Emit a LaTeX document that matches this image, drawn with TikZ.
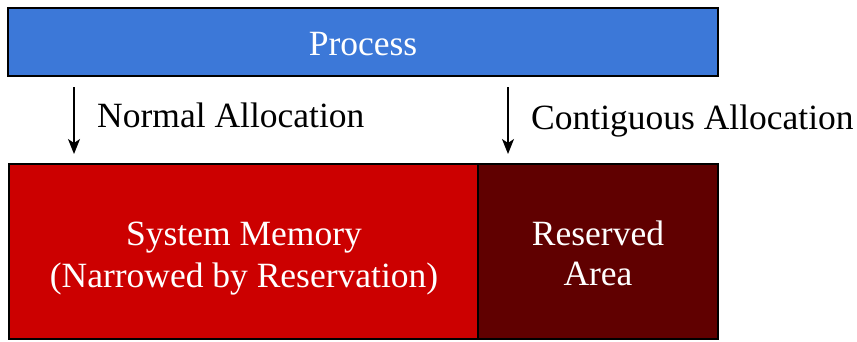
\documentclass[tikz,border=0pt]{standalone}
\usepackage{fontspec}
\setmainfont{Liberation Serif}
\usetikzlibrary{arrows.meta}
\definecolor{procblue}{HTML}{3C78D8}
\definecolor{sysred}{HTML}{CC0000}
\definecolor{resred}{HTML}{600000}
\tikzset{
  box/.style={draw=black, line width=2pt, inner sep=0pt},
  txt/.style={inner sep=0pt, text=white, align=center, font=\fontsize{35.5}{42}\selectfont},
  lbl/.style={anchor=base west, inner sep=0pt, font=\fontsize{35.5}{42}\selectfont},
  arr/.style={line width=1.5pt, -{Stealth[length=15pt,width=12pt,inset=4pt]}}
}
\begin{document}
\begin{tikzpicture}[x=1pt,y=-1pt]
\useasboundingbox (0,0) rectangle (857,341);
\node[box, fill=procblue, minimum width=710pt, minimum height=68pt] (proc) at (363,42) {};
\node[txt, anchor=base] (procT) at (363,55) {Process};
\node[box, fill=sysred, minimum width=470pt, minimum height=175pt] (sys) at (243.5,251) {};
\node[box, fill=resred, minimum width=240pt, minimum height=175pt] (res) at (598,251) {};
\node[txt, anchor=base] (sysT1) at (244,245) {System Memory};
\node[txt, anchor=base] (sysT2) at (244,287) {(Narrowed by Reservation)};
\node[txt, anchor=base] (resT1) at (598,245) {Reserved};
\node[txt, anchor=base] (resT2) at (598,285) {Area};
\coordinate (a1s) at (74,87);
\coordinate (a1e) at (74,154);
\coordinate (a2s) at (508,87);
\coordinate (a2e) at (508,154);
\draw[arr] (a1s) -- (a1e);
\draw[arr] (a2s) -- (a2e);
\node[lbl] (l1) at (97,127) {Normal Allocation};
\node[lbl] (l2) at (531,129) {Contiguous Allocation};
\end{tikzpicture}
\end{document}
